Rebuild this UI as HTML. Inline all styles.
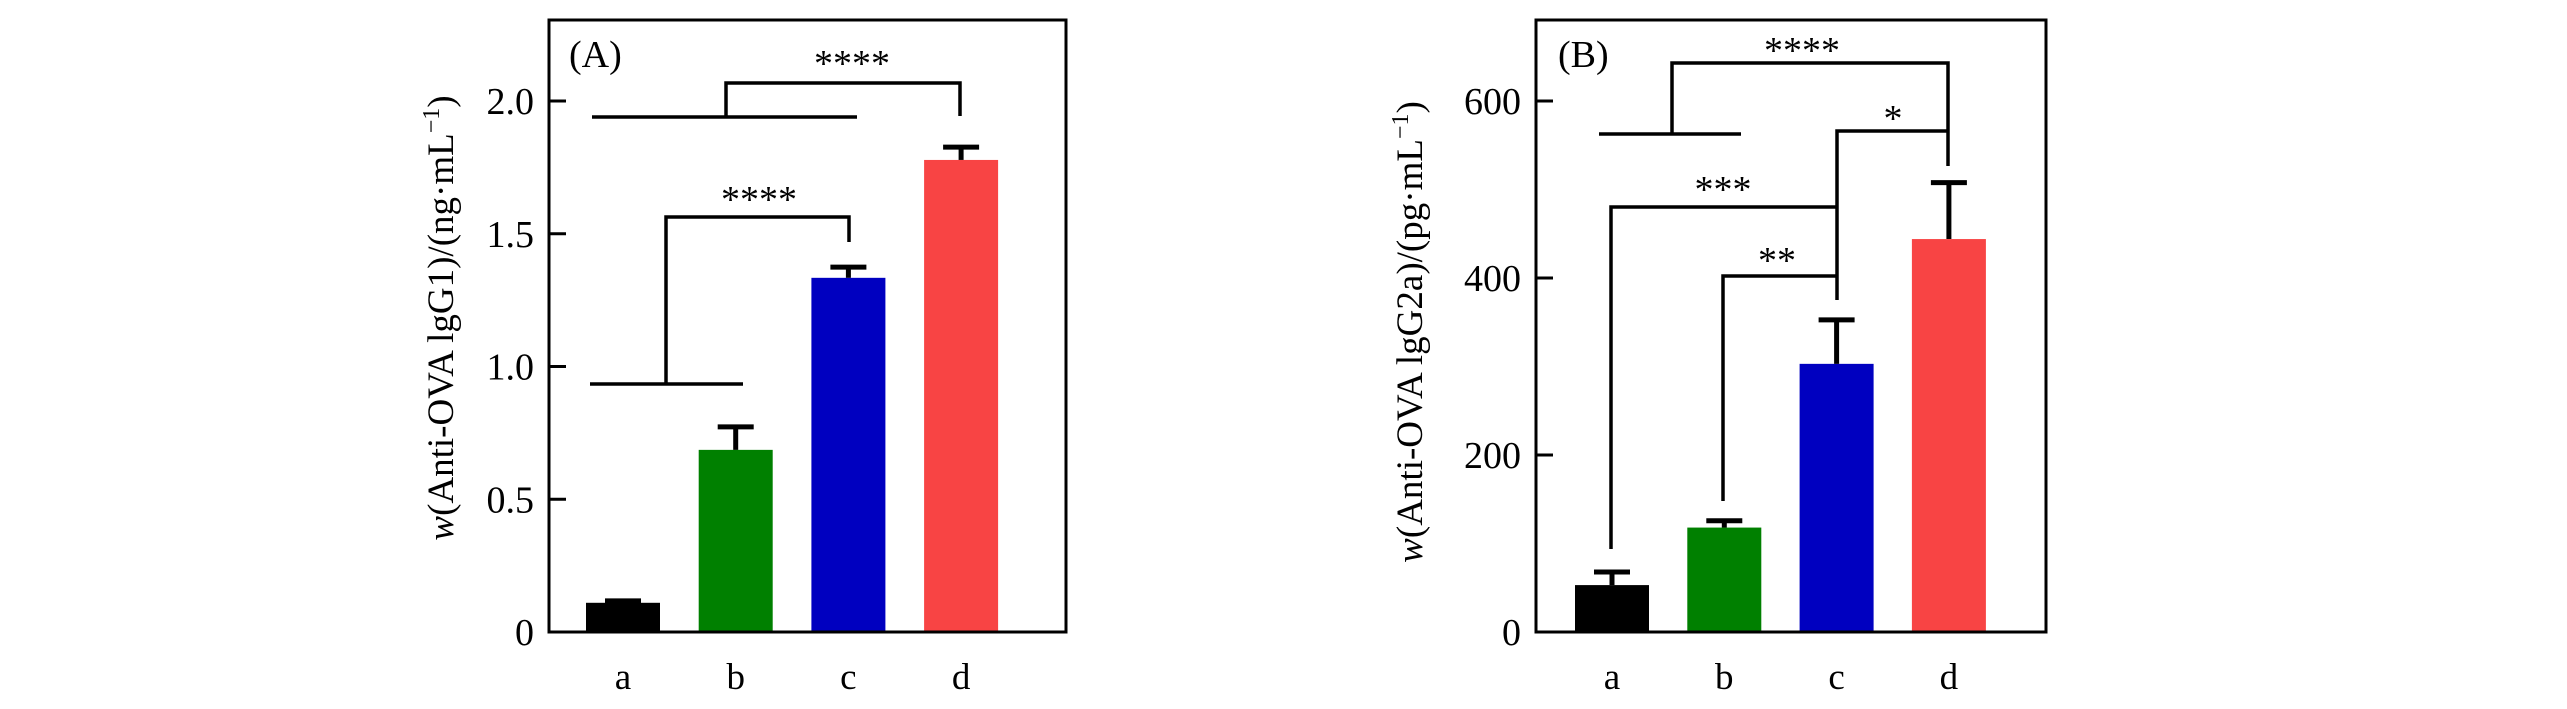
<!DOCTYPE html>
<html><head><meta charset="utf-8"><style>
html,body{margin:0;padding:0;background:#fff;}
svg{display:block;font-family:"Liberation Serif",serif;}
</style></head><body>
<svg id="chart" width="2567" height="709" viewBox="0 0 2567 709" xmlns="http://www.w3.org/2000/svg">
</svg>
<script>
const categories = ["a","b","c","d"];
const colors = ["#000000","#008000","#0000c0","#f84444"];
const valuesA = [0.11, 0.686, 1.334, 1.778];
const errorsA = [0.015, 0.094, 0.048, 0.056];
const ticksA = [0, 0.5, 1.0, 1.5, 2.0];
const tickLabelsA = ["0","0.5","1.0","1.5","2.0"];
const valuesB = [53, 118, 303, 444];
const errorsB = [17, 10, 52, 66];
const ticksB = [0, 200, 400, 600];
const tickLabelsB = ["0","200","400","600"];

const NS = "http://www.w3.org/2000/svg";
const svg = document.getElementById("chart");
function mk(tag, attrs, parent){
  const e = document.createElementNS(NS, tag);
  for (const k in attrs) e.setAttribute(k, attrs[k]);
  (parent||svg).appendChild(e);
  return e;
}

function panel(cfg){
  const g = mk("g", {});
  
  
  const yS = v => cfg.bottom - (v - 0) / cfg.ymax * (cfg.bottom - cfg.top0);
  const xS = i => cfg.firstCenter + i * cfg.step;
  cfg.values.forEach((v,i)=>{
    const r = mk("rect", {x: xS(i)-cfg.barW/2, y: yS(v), width: cfg.barW, height: cfg.bottom - yS(v), fill: colors[i]}, g);
    
    
    const eTop = yS(v + cfg.errors[i]);
    const s = mk("line", {x1: xS(i), x2: xS(i), y1: yS(v), y2: eTop, stroke: "#000", "stroke-width": 5}, g);
    
    
    const c = mk("line", {x1: xS(i)-18, x2: xS(i)+18, y1: eTop+2, y2: eTop+2, stroke: "#000", "stroke-width": 5}, g);
    
    
    const t = mk("text", {x: xS(i), y: 689, "font-size": 37, "text-anchor": "middle"}, g);
    t.textContent = categories[i];
    
    
  });
  const f = mk("rect", {x: cfg.left, y: 20, width: cfg.right - cfg.left, height: cfg.bottom - 20, fill: "none", stroke: "#000", "stroke-width": 3}, g);
  
  
  cfg.ticks.forEach((tv,k)=>{
    const y = yS(tv);
    if (k>0){
      const tl = mk("line", {x1: cfg.left, x2: cfg.left+17, y1: y, y2: y, stroke: "#000", "stroke-width": 3}, g);
      
      
    }
    const t = mk("text", {x: cfg.left - 15, y: y + 13, "font-size": 38, "text-anchor": "end"}, g);
    t.textContent = cfg.tickLabels[k];
    
    
  });
  const yt = mk("text", {x: 0, y: 0, "font-size": 37, "text-anchor": "middle", transform: `translate(${cfg.titleX},${cfg.titleY}) rotate(-90)`}, g);
  yt.innerHTML = cfg.title;
  
  
  const pl = mk("text", {x: cfg.labelX, y: 67, "font-size": 38}, g);
  pl.textContent = cfg.label;
  
  
  cfg.brackets.forEach(b=>{
    const p = mk("polyline", {points: b.pts, fill: "none", stroke: "#000", "stroke-width": 3.5}, g);
    
    
    const t = mk("text", {x: b.sx, y: b.sy, "font-size": 38, "text-anchor": "middle"}, g);
    t.textContent = b.stars;
    
    
  });
}

panel({name:"panel-a", left:549, right:1066, bottom:632, top0:101, ymax:2.0,
  firstCenter:623, step:112.7, barW:74, values:valuesA, errors:errorsA,
  ticks:ticksA, tickLabels:tickLabelsA,
  title:'<tspan font-style="italic">w</tspan>(Anti-OVA lgG1)/(ng·mL<tspan dy="-14" font-size="24">−1</tspan><tspan dy="14">)</tspan>',
  titleX:453, titleY:318, label:"(A)", labelX:569,
  brackets:[
    {pts:"592,117 857,117", sx:0, sy:0, stars:""},
    {pts:"726,117 726,83 960,83 960,116", sx:852, sy:76, stars:"****"},
    {pts:"590,384 743,384", sx:0, sy:0, stars:""},
    {pts:"666,384 666,217 849,217 849,242", sx:759, sy:212, stars:"****"}
  ]});

panel({name:"panel-b", left:1536, right:2046, bottom:632, top0:101, ymax:600,
  firstCenter:1612, step:112.3, barW:74, values:valuesB, errors:errorsB,
  ticks:ticksB, tickLabels:tickLabelsB,
  title:'<tspan font-style="italic">w</tspan>(Anti-OVA lgG2a)/(pg·mL<tspan dy="-14" font-size="24">−1</tspan><tspan dy="14">)</tspan>',
  titleX:1422, titleY:332, label:"(B)", labelX:1558,
  brackets:[
    {pts:"1599,134 1741,134", sx:0, sy:0, stars:""},
    {pts:"1672,134 1672,63 1948,63 1948,166", sx:1802, sy:63, stars:"****"},
    {pts:"1837,300 1837,131 1948,131", sx:1893, sy:131, stars:"*"},
    {pts:"1611,549 1611,207 1837,207", sx:1723, sy:202, stars:"***"},
    {pts:"1723,501 1723,276 1837,276", sx:1777, sy:273, stars:"**"}
  ]});
</script>
</body></html>
